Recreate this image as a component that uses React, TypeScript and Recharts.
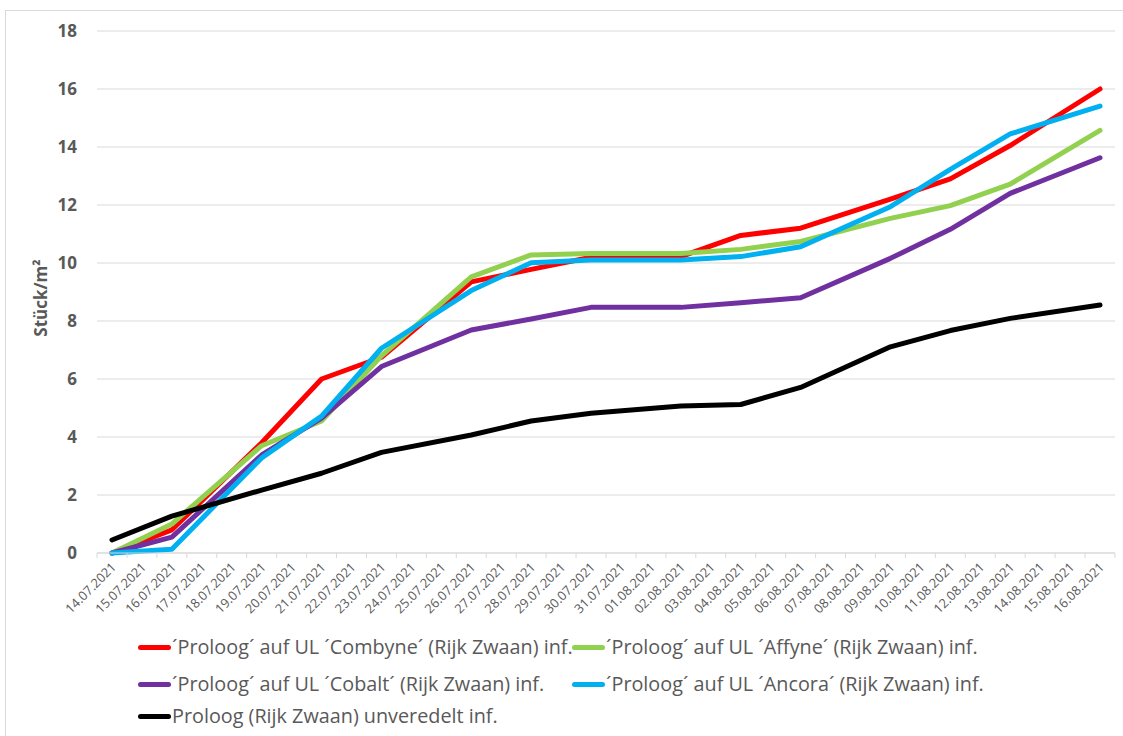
import React from 'react';
import { LineChart, Line, XAxis, YAxis, CartesianGrid } from 'recharts';

// All 34 calendar days on the category axis
const categories: string[] = [
  '14.07.2021', '15.07.2021', '16.07.2021', '17.07.2021', '18.07.2021', '19.07.2021',
  '20.07.2021', '21.07.2021', '22.07.2021', '23.07.2021', '24.07.2021', '25.07.2021',
  '26.07.2021', '27.07.2021', '28.07.2021', '29.07.2021', '30.07.2021', '31.07.2021',
  '01.08.2021', '02.08.2021', '03.08.2021', '04.08.2021', '05.08.2021', '06.08.2021',
  '07.08.2021', '08.08.2021', '09.08.2021', '10.08.2021', '11.08.2021', '12.08.2021',
  '13.08.2021', '14.08.2021', '15.08.2021', '16.08.2021',
];

// Days on which counts were taken
const measureDates: string[] = [
  '14.07.2021', '16.07.2021', '19.07.2021', '21.07.2021', '23.07.2021', '26.07.2021',
  '28.07.2021', '30.07.2021', '02.08.2021', '04.08.2021', '06.08.2021', '09.08.2021',
  '11.08.2021', '13.08.2021', '16.08.2021',
];

const combyne: number[] = [0, 0.8, 3.8, 6.0, 6.75, 9.35, 9.78, 10.2, 10.22, 10.95, 11.2, 12.2, 12.9, 14.05, 16.0];
const affyne: number[] = [0, 1.0, 3.7, 4.55, 6.8, 9.52, 10.28, 10.33, 10.33, 10.47, 10.74, 11.54, 11.98, 12.72, 14.57];
const cobalt: number[] = [0, 0.55, 3.38, 4.65, 6.43, 7.69, 8.07, 8.47, 8.47, 8.63, 8.8, 10.16, 11.16, 12.4, 13.63];
const ancora: number[] = [0, 0.13, 3.28, 4.72, 7.06, 9.05, 10.01, 10.1, 10.1, 10.22, 10.56, 11.94, 13.23, 14.45, 15.41];
const unveredelt: number[] = [0.45, 1.27, 2.17, 2.75, 3.47, 4.07, 4.55, 4.82, 5.07, 5.12, 5.71, 7.11, 7.67, 8.09, 8.55];

const yTicks: number[] = [0, 2, 4, 6, 8, 10, 12, 14, 16, 18];

const seriesDefs = [
  { key: 'combyne', name: '´Proloog´ auf UL ´Combyne´ (Rijk Zwaan) inf.', color: '#FF0000', values: combyne },
  { key: 'affyne', name: '´Proloog´ auf UL ´Affyne´ (Rijk Zwaan) inf.', color: '#92D050', values: affyne },
  { key: 'cobalt', name: '´Proloog´ auf UL ´Cobalt´ (Rijk Zwaan) inf.', color: '#7030A0', values: cobalt },
  { key: 'ancora', name: '´Proloog´ auf UL ´Ancora´ (Rijk Zwaan) inf.', color: '#00B0F0', values: ancora },
  { key: 'unveredelt', name: 'Proloog (Rijk Zwaan) unveredelt inf.', color: '#000000', values: unveredelt },
];

const data = categories.map((date) => {
  const row: Record<string, string | number | null> = { date };
  const idx = measureDates.indexOf(date);
  seriesDefs.forEach((s) => {
    row[s.key] = idx >= 0 ? s.values[idx] : null;
  });
  return row;
});

const W = 1123;
const H = 736;
const PLOT_LEFT = 97;
const PLOT_RIGHT = 1115;
const STEP = (PLOT_RIGHT - PLOT_LEFT) / categories.length;
const FONT = '"Open Sans", sans-serif';
const TEXT = '#595959';
const GRID = '#d9d9d9';

const XTick = (props: any) => {
  const { x, y, payload, index } = props;
  const isLast = index === categories.length - 1;
  const ax = x + 5;
  const ay = y + 15;
  return (
    <g>
      <line x1={x - STEP / 2} x2={x - STEP / 2} y1={y} y2={y + 5} stroke={GRID} strokeWidth={1} />
      {isLast && <line x1={x + STEP / 2} x2={x + STEP / 2} y1={y} y2={y + 5} stroke={GRID} strokeWidth={1} />}
      <text
        x={ax}
        y={ay}
        textAnchor="end"
        transform={`rotate(-45 ${ax} ${ay})`}
        fill={TEXT}
        fontSize={12.8}
        fontFamily={FONT}
      >
        {payload.value}
      </text>
    </g>
  );
};

const YLabel = (props: any) => {
  const vb = props.viewBox || {};
  const cx = vb.x + 5;
  const cy = vb.y + vb.height / 2 + 6;
  return (
    <text
      x={cx}
      y={cy}
      transform={`rotate(-90 ${cx} ${cy})`}
      textAnchor="middle"
      dominantBaseline="middle"
      fill={TEXT}
      fontSize={17}
      fontWeight="bold"
      fontFamily={FONT}
    >
      Stück/m²
    </text>
  );
};

const LegendItem = ({ color, label, left, top }: { color: string; label: string; left: number; top: number }) => (
  <div style={{ position: 'absolute', left, top, display: 'flex', alignItems: 'center', whiteSpace: 'nowrap' }}>
    <div style={{ width: 33, height: 5, borderRadius: 3, background: color, marginRight: 1 }} />
    <span style={{ fontFamily: FONT, fontSize: 19.8, color: TEXT, lineHeight: '24px' }}>{label}</span>
  </div>
);

const legendPos = [
  { left: 138, top: 635 },
  { left: 572, top: 635 },
  { left: 138, top: 672 },
  { left: 572, top: 672 },
  { left: 138, top: 704 },
];

export default function App() {
  return (
    <div style={{ position: 'absolute', left: 0, top: 0, width: W, height: H, overflow: 'hidden', background: '#fff' }}>
      <div style={{ position: 'absolute', left: 5, top: 10, width: 1300, height: 900, border: `1px solid ${GRID}` }} />
      <div style={{ position: 'absolute', left: 0, top: 0 }}>
        <LineChart width={W} height={H} data={data} margin={{ top: 31, right: W - PLOT_RIGHT, left: PLOT_LEFT - 60, bottom: 103 }}>
          <CartesianGrid vertical={false} stroke={GRID} strokeWidth={1} />
          <XAxis
            dataKey="date"
            interval={0}
            height={80}
            padding={{ left: STEP / 2, right: STEP / 2 }}
            axisLine={{ stroke: GRID, strokeWidth: 1 }}
            tickLine={false}
            tickSize={0}
            tickMargin={0}
            tick={<XTick />}
          />
          <YAxis
            width={60}
            domain={[0, 18]}
            ticks={yTicks}
            interval={0}
            axisLine={false}
            tickLine={false}
            tickMargin={14}
            tick={{ fill: TEXT, fontSize: 17, fontWeight: 'bold', fontFamily: FONT }}
            label={<YLabel />}
          />
          {seriesDefs.map((s) => (
            <Line
              key={s.key}
              type="linear"
              dataKey={s.key}
              name={s.name}
              stroke={s.color}
              strokeWidth={5}
              strokeLinecap="round"
              strokeLinejoin="round"
              dot={false}
              activeDot={false}
              connectNulls
              isAnimationActive={false}
            />
          ))}
        </LineChart>
      </div>
      {seriesDefs.map((s, i) => (
        <LegendItem key={s.key} color={s.color} label={s.name} left={legendPos[i].left} top={legendPos[i].top} />
      ))}
    </div>
  );
}
